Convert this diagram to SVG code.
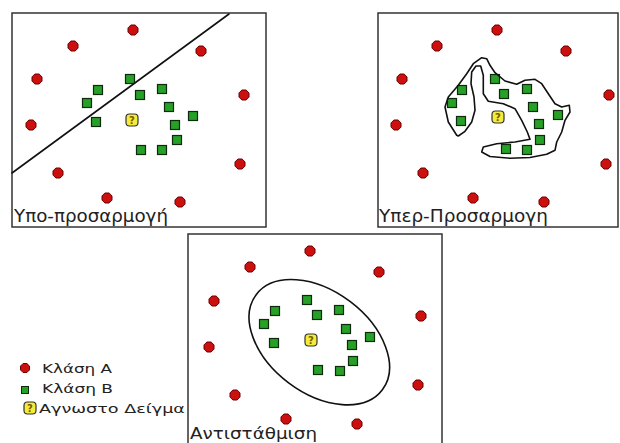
<svg xmlns="http://www.w3.org/2000/svg" xmlns:xlink="http://www.w3.org/1999/xlink" width="620" height="443" viewBox="0 0 620 443">
<style>
.frame{fill:#fff;stroke:#333;stroke-width:1.5}
.bound{fill:none;stroke:#111;stroke-width:1.6;stroke-linejoin:round;stroke-linecap:round}
.lbl{font-family:"DejaVu Sans","Liberation Sans",sans-serif;font-size:17px;fill:#222}
.leg{font-family:"DejaVu Sans","Liberation Sans",sans-serif;font-size:13px;fill:#222}
.q{font-family:"DejaVu Sans","Liberation Sans",sans-serif;font-size:10px;font-weight:bold;fill:#7a5a00}
</style>
<defs>
<polygon id="ra" points="-2.1,-5 2.1,-5 5,-2.1 5,2.1 2.1,5 -2.1,5 -5,2.1 -5,-2.1" fill="#cc1010" stroke="#6a0000" stroke-width="1"/>
<rect id="gb" x="-4.5" y="-4.5" width="9" height="9" fill="#26a026" stroke="#0c2a0c" stroke-width="1.2"/>
<g id="yu">
<rect x="-6" y="-6" width="12" height="12" rx="3.5" fill="#f4ec3a" stroke="#333" stroke-width="1.2"/>
<text class="q" x="0" y="3.6" text-anchor="middle">?</text>
</g>
</defs>
<rect width="620" height="443" fill="#fff"/>

<g id="panel-underfit">
<rect class="frame" x="12" y="13" width="254" height="214"/>
<g id="p1-classA">
<use xlink:href="#ra" x="133" y="30"/><use xlink:href="#ra" x="73" y="46"/><use xlink:href="#ra" x="201" y="51"/>
<use xlink:href="#ra" x="37" y="79"/><use xlink:href="#ra" x="244" y="95"/><use xlink:href="#ra" x="31" y="125"/>
<use xlink:href="#ra" x="240" y="164"/><use xlink:href="#ra" x="58" y="173"/><use xlink:href="#ra" x="107" y="198"/>
<use xlink:href="#ra" x="180" y="202"/>
</g>
<g id="p1-classB">
<use xlink:href="#gb" x="130" y="79"/><use xlink:href="#gb" x="98" y="90"/><use xlink:href="#gb" x="162" y="89"/>
<use xlink:href="#gb" x="140" y="95"/><use xlink:href="#gb" x="87" y="103"/><use xlink:href="#gb" x="169" y="107"/>
<use xlink:href="#gb" x="193" y="116"/><use xlink:href="#gb" x="96" y="122"/><use xlink:href="#gb" x="175" y="125"/>
<use xlink:href="#gb" x="177" y="140"/><use xlink:href="#gb" x="141" y="150"/><use xlink:href="#gb" x="162" y="150"/>
</g>
<use xlink:href="#yu" x="132" y="120"/>
<text class="lbl" x="14" y="222" textLength="154" lengthAdjust="spacingAndGlyphs">Υπο-προσαρμογή</text>
</g>

<g id="panel-overfit">
<rect class="frame" x="378" y="13" width="240" height="214"/>
<g id="p2-classA">
<use xlink:href="#ra" x="497" y="30"/><use xlink:href="#ra" x="437" y="46"/><use xlink:href="#ra" x="566" y="51"/>
<use xlink:href="#ra" x="402" y="79"/><use xlink:href="#ra" x="609" y="95"/><use xlink:href="#ra" x="396" y="125"/>
<use xlink:href="#ra" x="606" y="164"/><use xlink:href="#ra" x="423" y="173"/><use xlink:href="#ra" x="473" y="198"/>
<use xlink:href="#ra" x="544" y="202"/>
</g>
<g id="p2-classB">
<use xlink:href="#gb" x="495" y="79"/><use xlink:href="#gb" x="462" y="90"/><use xlink:href="#gb" x="527" y="89"/>
<use xlink:href="#gb" x="504" y="94"/><use xlink:href="#gb" x="452" y="103"/><use xlink:href="#gb" x="533" y="107"/>
<use xlink:href="#gb" x="558" y="115"/><use xlink:href="#gb" x="461" y="121"/><use xlink:href="#gb" x="539" y="124"/>
<use xlink:href="#gb" x="540" y="140"/><use xlink:href="#gb" x="506" y="149"/><use xlink:href="#gb" x="527" y="150"/>
</g>
<use xlink:href="#yu" x="498" y="117"/>
<text class="lbl" x="379" y="222" textLength="169" lengthAdjust="spacingAndGlyphs">Υπερ-Προσαρμογη</text>
</g>

<g id="panel-balanced">
<rect class="frame" x="188" y="234" width="254" height="216"/>
<g id="p3-classA">
<use xlink:href="#ra" x="310" y="251"/><use xlink:href="#ra" x="250" y="267"/><use xlink:href="#ra" x="379" y="272"/>
<use xlink:href="#ra" x="214" y="301"/><use xlink:href="#ra" x="421" y="316"/><use xlink:href="#ra" x="209" y="347"/>
<use xlink:href="#ra" x="418" y="385"/><use xlink:href="#ra" x="235" y="395"/><use xlink:href="#ra" x="286" y="419"/>
<use xlink:href="#ra" x="357" y="424"/>
</g>
<g id="p3-classB">
<use xlink:href="#gb" x="307" y="300"/><use xlink:href="#gb" x="275" y="311"/><use xlink:href="#gb" x="339" y="310"/>
<use xlink:href="#gb" x="317" y="315"/><use xlink:href="#gb" x="264" y="324"/><use xlink:href="#gb" x="346" y="329"/>
<use xlink:href="#gb" x="370" y="337"/><use xlink:href="#gb" x="274" y="343"/><use xlink:href="#gb" x="352" y="345"/>
<use xlink:href="#gb" x="353" y="361"/><use xlink:href="#gb" x="318" y="370"/><use xlink:href="#gb" x="340" y="371"/>
</g>
<use xlink:href="#yu" x="311" y="340"/>
<text class="lbl" x="190" y="439" font-size="16" style="font-size:16px" textLength="127" lengthAdjust="spacingAndGlyphs">Αντιστάθμιση</text>
</g>

<g id="connectors">
<line class="bound" x1="12" y1="173" x2="229" y2="14"/>
<path class="bound" d="M456.7,135.3 L448.3,122 L445,107 L448.3,97 L458.3,85.3 L466.7,73.7 L473.3,63.7 L481.7,57.7 L486.7,58.7 L490,65.3 L495,72.7 L505,81 L516.7,84.3 L525,80.3 L535,79.3 L541.7,83.7 L548.3,93.7 L555,103.7 L561.7,107 L569.3,105.3 L570,112 L565,120.3 L561.7,132 L556.7,142 L555,150.3 L546.7,154.3 L530,157.5 L510,158.3 L490,156.5 L481.7,152 L483.3,147 L496.7,143.7 L515,142 L530,139.3 L527.3,132 L521.7,120.3 L515,108.7 L503.3,103.7 L488.3,101.3 L483.3,93.7 L483.3,75.3 L480.7,66 L476,66 L471.7,72 L471,83.7 L474,97 L475,110.3 L471.7,122 L465,131.3 L458.3,136 Z"/>
<ellipse class="bound" cx="319.3" cy="342.2" rx="79" ry="51" transform="rotate(37 319.3 342.2)"/>
</g>

<g id="legend">
<g id="leg-a"><polygon points="-1.9,-4.5 1.9,-4.5 4.5,-1.9 4.5,1.9 1.9,4.5 -1.9,4.5 -4.5,1.9 -4.5,-1.9" transform="translate(25,368)" fill="#cc1010" stroke="#6a0000" stroke-width="1"/>
<text class="leg" x="42" y="373" textLength="70" lengthAdjust="spacingAndGlyphs">Κλάση Α</text></g>
<g id="leg-b"><rect x="21.5" y="386.5" width="7" height="7" fill="#26a026" stroke="#0c2a0c" stroke-width="1"/>
<text class="leg" x="42" y="393" textLength="71" lengthAdjust="spacingAndGlyphs">Κλάση Β</text></g>
<g id="leg-u"><use xlink:href="#yu" x="30" y="408"/>
<text class="leg" x="39" y="413" textLength="146" lengthAdjust="spacingAndGlyphs">Αγνωστο Δείγμα</text></g>
</g>
</svg>
